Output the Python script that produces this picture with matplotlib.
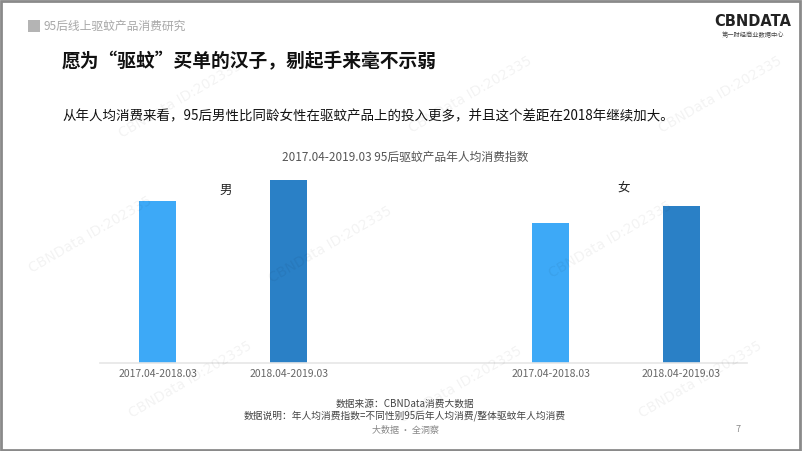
import matplotlib
matplotlib.use("Agg")
import matplotlib.pyplot as plt
from matplotlib.patches import Rectangle

plt.rcParams['font.family'] = ['Noto Sans CJK SC', 'DejaVu Sans']

# data
periods = ["2017.04-2018.03", "2018.04-2019.03", "2017.04-2018.03", "2018.04-2019.03"]
genders = ["男", "女"]
index_values = [1.62, 1.83, 1.40, 1.57]
bar_pos = [0, 1, 3, 4]
bar_colors = ["#3DA9F7", "#2A80C6", "#3DA9F7", "#2A80C6"]

W, H = 802, 451
fig = plt.figure(figsize=(W / 100, H / 100), dpi=100)


def fx(px):
    return px / W


def fy(py):
    return 1 - py / H


# slide frame
fig.patches.append(Rectangle((0.001, 0.003), 0.997, 0.994, transform=fig.transFigure,
                             fill=False, edgecolor="#8a8a8a", linewidth=2))

# watermarks
for wx, wy in [(180, 100), (470, 95), (720, 95), (90, 235), (330, 245), (610, 240),
               (190, 380), (460, 385), (700, 380)]:
    fig.text(fx(wx), fy(wy), "CBNData ID:202335", fontsize=10, color="#000000", alpha=0.05,
             rotation=30, ha="center", va="center", family="DejaVu Sans")

# header
fig.patches.append(Rectangle((fx(28), fy(32)), fx(12), 12 / H, transform=fig.transFigure,
                             facecolor="#b4b4b4", edgecolor="none"))
fig.text(fx(44), fy(26), "95后线上驱蚊产品消费研究", fontsize=8.5, color="#a8a8a8", va="center")
fig.text(fx(753), fy(22), "CBNDATA", fontsize=10.5, fontweight="bold", color="#222222",
         ha="center", va="center", family="DejaVu Sans")
fig.text(fx(753), fy(35), "第一财经商业数据中心", fontsize=4.5, color="#444444", ha="center", va="center")

fig.text(fx(62), fy(62), "愿为“驱蚊”买单的汉子，剔起手来毫不示弱", fontsize=13.5,
         fontweight="bold", color="#111111", va="center")
fig.text(fx(62), fy(116), "从年人均消费来看，95后男性比同龄女性在驱蚊产品上的投入更多，并且这个差距在2018年继续加大。",
         fontsize=9.7, color="#111111", va="center")
fig.text(fx(405), fy(157), "2017.04-2019.03 95后驱蚊产品年人均消费指数", fontsize=8.5,
         color="#555555", ha="center", va="center")

# chart
ax = fig.add_axes([fx(100), fy(363), fx(747) - fx(100), (363 - 150) / H])
ax.bar(bar_pos, index_values, width=0.28, color=bar_colors)
ax.set_xlim(-0.44, 4.5)
ax.set_ylim(0, 2.13)
ax.set_xticks(bar_pos)
ax.set_xticklabels(periods, fontsize=7.5, color="#666666")
ax.tick_params(axis="x", length=0, pad=4)
ax.set_yticks([])
for s in ["top", "right", "left"]:
    ax.spines[s].set_visible(False)
ax.spines["bottom"].set_color("#e6e6e6")
ax.spines["bottom"].set_linewidth(1.2)
ax.patch.set_alpha(0)

fig.text(fx(226), fy(190), genders[0], fontsize=9, color="#222222", ha="center", va="center")
fig.text(fx(624), fy(188), genders[1], fontsize=9, color="#222222", ha="center", va="center")

# footer
fig.text(fx(405), fy(404), "数据来源：CBNData消费大数据", fontsize=7, color="#444444", ha="center", va="center")
fig.text(fx(405), fy(416), "数据说明：年人均消费指数=不同性别95后年人均消费/整体驱蚊年人均消费",
         fontsize=7, color="#444444", ha="center", va="center")
fig.text(fx(405), fy(430), "大数据 · 全洞察", fontsize=6.5, color="#888888", ha="center", va="center")
fig.text(fx(738), fy(430), "7", fontsize=6.5, color="#888888", ha="center", va="center")

fig.savefig("out.png", dpi=100)
